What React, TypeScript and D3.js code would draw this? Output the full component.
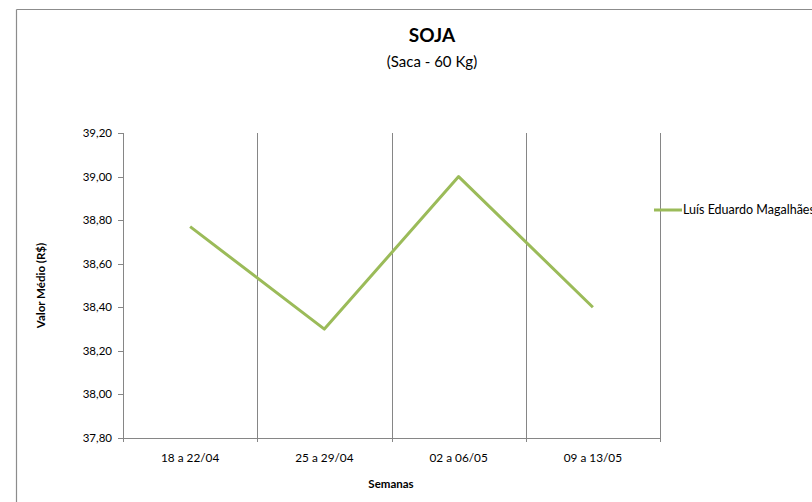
import React from "react";
import * as d3 from "d3";

const categories = ["18 a 22/04", "25 a 29/04", "02 a 06/05", "09 a 13/05"];
const seriesName = "Luís Eduardo Magalhães";
const values = [38.77, 38.3, 39.0, 38.4];
const yTicks = [37.8, 38.0, 38.2, 38.4, 38.6, 38.8, 39.0, 39.2];

const W = 812;
const H = 502;
const left = 123;
const right = 660;
const top = 133;
const bottom = 438;
const font = "Lato, 'Open Sans', sans-serif";
const green = "#9BBB59";
const gray = "#868686";

export default function App() {
  const x = d3.scaleBand<string>().domain(categories).range([left, right]);
  const y = d3.scaleLinear().domain([37.8, 39.2]).range([bottom, top]);
  const line = d3
    .line<number>()
    .x((_, i) => (x(categories[i]) as number) + x.bandwidth() / 2)
    .y((d) => y(d));
  const fmt = (v: number) => v.toFixed(2).replace(".", ",");
  const bounds = categories.map((c) => (x(c) as number) + x.bandwidth());

  return (
    <svg
      width={W}
      height={H}
      style={{ position: "absolute", left: 0, top: 0, background: "#fff" }}
    >
      <rect x={0} y={0} width={W} height={H} fill="#fff" />
      {/* outer border */}
      <line x1={16.5} y1={9.5} x2={W} y2={9.5} stroke="#8c8c8c" strokeWidth={1.2} />
      <line x1={16.5} y1={9.5} x2={16.5} y2={H} stroke="#8c8c8c" strokeWidth={1.2} />

      {/* title */}
      <text x={432} y={42} textAnchor="middle" fontFamily={font} fontWeight="bold" fontSize={19} fill="#000">
        SOJA
      </text>
      <text x={432} y={67} textAnchor="middle" fontFamily={font} fontSize={15} fill="#000">
        (Saca - 60 Kg)
      </text>

      {/* vertical gridlines */}
      {bounds.map((b, i) => (
        <line key={i} x1={Math.round(b) + 0.5} y1={top} x2={Math.round(b) + 0.5} y2={bottom} stroke={gray} strokeWidth={1} />
      ))}

      {/* y axis */}
      <line x1={left + 0.5} y1={top} x2={left + 0.5} y2={bottom} stroke={gray} strokeWidth={1} />
      {yTicks.map((t) => (
        <g key={t}>
          <line x1={left - 5} x2={left} y1={Math.round(y(t)) + 0.5} y2={Math.round(y(t)) + 0.5} stroke={gray} />
          <text x={left - 11} y={y(t) + 4} textAnchor="end" fontFamily={font} fontSize={11.5} fill="#000">
            {fmt(t)}
          </text>
        </g>
      ))}

      {/* x axis */}
      <line x1={left} y1={bottom + 0.5} x2={right} y2={bottom + 0.5} stroke={gray} strokeWidth={1} />
      {[left, ...bounds].map((b, i) => (
        <line key={i} x1={Math.round(b) + 0.5} x2={Math.round(b) + 0.5} y1={bottom} y2={bottom + 4} stroke={gray} />
      ))}
      {categories.map((c) => (
        <text key={c} x={(x(c) as number) + x.bandwidth() / 2} y={462} textAnchor="middle" fontFamily={font} fontSize={11.8} fill="#000">
          {c}
        </text>
      ))}

      {/* axis titles */}
      <text x={391} y={488} textAnchor="middle" fontFamily={font} fontWeight="bold" fontSize={11.5} fill="#000">
        Semanas
      </text>
      <text
        transform={`translate(45, ${(top + bottom) / 2}) rotate(-90)`}
        textAnchor="middle"
        fontFamily={font}
        fontWeight="bold"
        fontSize={11.5}
        fill="#000"
      >
        Valor Médio (R$)
      </text>

      {/* series */}
      <path d={line(values) || ""} fill="none" stroke={green} strokeWidth={3} strokeLinejoin="round" />

      {/* legend */}
      <line x1={654} x2={682} y1={210} y2={210} stroke={green} strokeWidth={3} />
      <text x={683} y={214} fontFamily={font} fontSize={12.5} fill="#000">
        {seriesName}
      </text>
    </svg>
  );
}
